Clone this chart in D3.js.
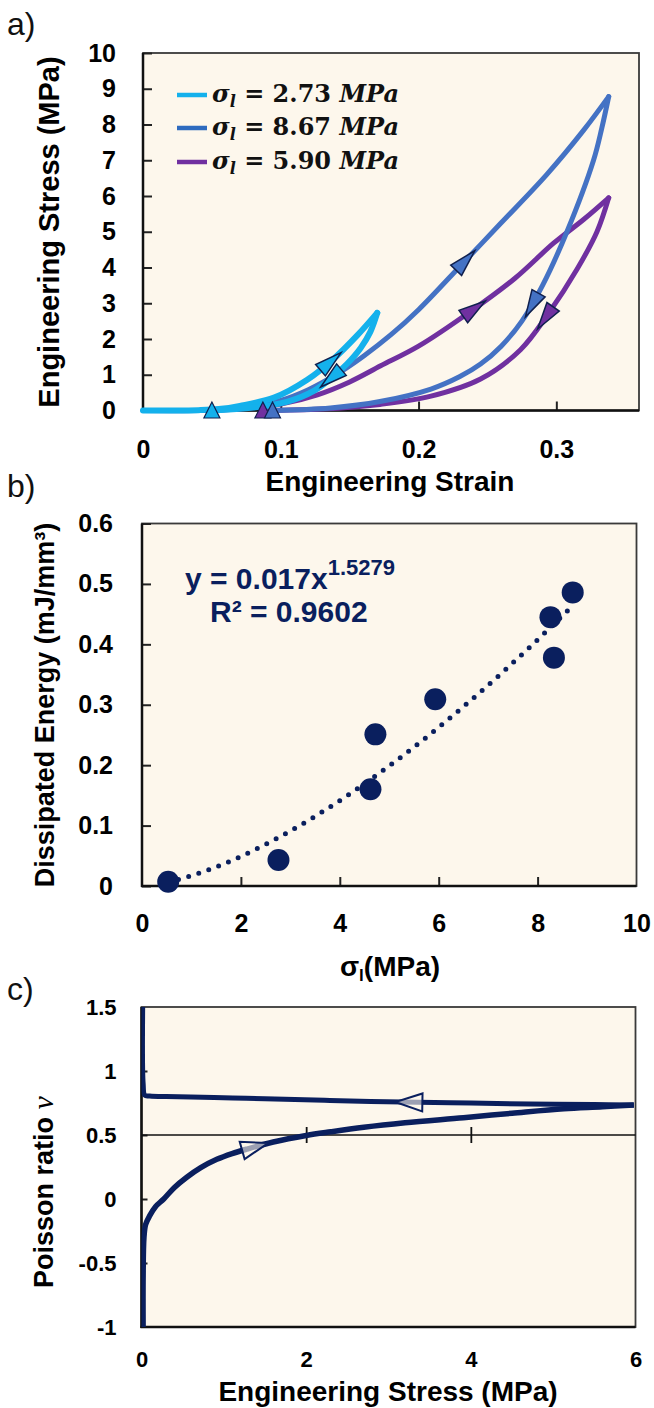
<!DOCTYPE html>
<html><head><meta charset="utf-8">
<script src="https://cdn.jsdelivr.net/npm/d3@7"></script>
<style>body{margin:0;background:#fff} svg{display:block}</style>
</head><body>
<svg id="chart" width="654" height="1408"></svg>
<script>
// ---------------- DATA ----------------
// Panel a: stress-strain hysteresis loops [strain, stress MPa]
const strainTicks = [0, 0.1, 0.2, 0.3];
const stressTicks = [0,1,2,3,4,5,6,7,8,9,10];
const legendLabels = ["2.73", "8.67", "5.90"];
const lightLoad = [[0,0],[0.02,0],[0.04,0.01],[0.055,0.04],[0.0703,0.13],[0.0951,0.36],[0.1192,0.86],[0.1385,1.45],[0.1555,2.1],[0.170,2.73]];
const lightUnload = [[0.170,2.73],[0.165,2.2],[0.158,1.75],[0.148,1.3],[0.138,0.95],[0.124,0.55],[0.105,0.25],[0.08,0.08],[0.05,0]];
const blueLoad = [[0,0],[0.04,0],[0.06,0.03],[0.08,0.11],[0.10,0.28],[0.12,0.58],[0.14,1.0],[0.16,1.52],[0.18,2.12],[0.2,2.82],[0.2317,4.1],[0.26,5.25],[0.293,6.6],[0.32,7.85],[0.338,8.78]];
const blueUnload = [[0.338,8.78],[0.333,7.9],[0.327,7.0],[0.3077,5.0],[0.29,3.5],[0.275,2.5],[0.26,1.8],[0.245,1.3],[0.23,0.95],[0.209,0.6],[0.172,0.25],[0.136,0.07],[0.094,0]];
const purpleLoad = [[0,0],[0.04,0],[0.06,0.02],[0.08,0.08],[0.10,0.18],[0.1266,0.44],[0.15,0.8],[0.1725,1.25],[0.2,1.8],[0.2377,2.77],[0.27,3.7],[0.298,4.68],[0.32,5.35],[0.338,5.95]];
const purpleUnload = [[0.338,5.95],[0.3295,5.0],[0.315,3.95],[0.2944,2.72],[0.274,1.70],[0.245,0.88],[0.209,0.4],[0.172,0.17],[0.13,0.04],[0.087,0]];
const residualStrain = [0.05, 0.094, 0.087];           // light, blue, purple
const arrowLoadStrain = [0.1337, 0.2317, 0.2377];
const arrowUnloadStrain = [0.139, 0.284, 0.294];

// Panel b: dissipated energy vs sigma_l
const sigmaL = [0.53, 2.76, 4.62, 4.72, 5.93, 8.26, 8.33, 8.71];
const energy = [0.007, 0.043, 0.160, 0.251, 0.309, 0.445, 0.378, 0.486];
const fitCoef = 0.017, fitExp = 1.5279;
const energyTicks = [0,0.1,0.2,0.3,0.4,0.5,0.6];
const sigmaTicks = [0,2,4,6,8,10];

// Panel c: Poisson ratio vs engineering stress
const cLoadX = [0.02,0.02,0.03,0.05,0.1,0.17,0.27,0.4,0.55,0.72,0.915,1.1,1.28,1.6,2.0,2.3,2.7,3.2,3.91,4.5,5.13,5.6,5.98];
const cLoadY = [-1.05,-0.6,-0.3,-0.2,-0.13,-0.06,0.0,0.09,0.17,0.245,0.31,0.355,0.39,0.445,0.496,0.525,0.56,0.595,0.635,0.67,0.705,0.72,0.735];
const cUnloadX = [5.98,5.5,4.72,4.0,3.36,2.29,1.5,1.11,0.6,0.3,0.1,0.04,0.02,0.015];
const cUnloadY = [0.735,0.738,0.742,0.75,0.755,0.77,0.783,0.789,0.796,0.80,0.805,0.81,0.9,1.55];
const poissonTicks = [-1,-0.5,0,0.5,1,1.5];
const cStressTicks = [0,2,4,6];
const cArrowLoad = 1.33, cArrowUnload = 3.3;

// ---------------- STYLE ----------------
const BG = "#fdf7ec";
const SANS = "'Liberation Sans', Arial, Helvetica, sans-serif";
const SERIF = "'DejaVu Serif', 'Liberation Serif', serif";
const LIGHT = "#14b1ec", BLUE = "#4472c4", PURPLE = "#7030a0", NAVY = "#0a1f5e";
const LEG_COLORS = [LIGHT, "#2e6bbf", PURPLE];
const OUT = "#10204e";
const fmt = d => String(d);

const svg = d3.select("#chart");
svg.append("rect").attr("width",654).attr("height",1408).attr("fill","#fff");

function frame(x0,x1,y0,y1){
  svg.append("rect").attr("x",x0).attr("y",y0).attr("width",x1-x0).attr("height",y1-y0)
    .attr("fill",BG).attr("stroke","#3a3a3a").attr("stroke-width",1.8);
}
function axisLines(x0,x1,y0,y1){
  svg.append("line").attr("x1",x0).attr("x2",x0).attr("y1",y0).attr("y2",y1+1).attr("stroke","#111").attr("stroke-width",2.5);
  svg.append("line").attr("x1",x0-1).attr("x2",x1).attr("y1",y1).attr("y2",y1).attr("stroke","#111").attr("stroke-width",2.5);
}
function styleAxis(g, fs){
  g.select(".domain").remove();
  g.selectAll("text").attr("font-size",fs).attr("font-weight","bold").attr("font-family",SANS).attr("fill","#000");
  g.selectAll("line").attr("stroke","#222").attr("stroke-width",2);
}
function panelLabel(t,x,y){
  svg.append("text").attr("x",x).attr("y",y).text(t).attr("font-family",SANS).attr("font-size",32).attr("fill","#111");
}
function arrowAt(node, targetX){
  const total = node.getTotalLength();
  let best=0, bestD=1e9;
  for(let l=0;l<=total;l+=0.5){const p=node.getPointAtLength(l);const d=Math.abs(p.x-targetX);if(d<bestD){bestD=d;best=l;}}
  const p=node.getPointAtLength(best);
  const p1=node.getPointAtLength(Math.max(0,best-4)), p2=node.getPointAtLength(Math.min(total,best+4));
  return {x:p.x,y:p.y,ang:Math.atan2(p2.y-p1.y,p2.x-p1.x)*180/Math.PI};
}
function triPath(L,W){ return `M${2*L/3},0L${-L/3},${-W/2}L${-L/3},${W/2}Z`; }

// ================= PANEL A =================
const xa = d3.scaleLinear().domain([0,0.36]).range([143,639]);
const ya = d3.scaleLinear().domain([0,10]).range([410.5,53]);
frame(143,639,53,410.5);
{
  const gy = svg.append("g").attr("transform",`translate(143,0)`)
    .call(d3.axisLeft(ya).tickValues(stressTicks).tickSizeInner(-9).tickSizeOuter(0).tickPadding(27).tickFormat(fmt));
  styleAxis(gy,25);
  const gx = svg.append("g").attr("transform",`translate(0,410.5)`)
    .call(d3.axisBottom(xa).tickValues(strainTicks).tickSizeInner(-9).tickSizeOuter(0).tickFormat(fmt));
  styleAxis(gx,25);
  gx.selectAll("text").attr("y",47.5).attr("dy",0);
  gx.selectAll(".tick").filter(d=>d===0).select("line").remove();
}
axisLines(143,639,53,410.5);

const lineA = d3.line().x(d=>xa(d[0])).y(d=>ya(d[1])).curve(d3.curveCatmullRom.alpha(0.5));
const seriesA = [
  {load:purpleLoad, unload:purpleUnload, color:PURPLE, w:5, i:2},
  {load:blueLoad, unload:blueUnload, color:BLUE, w:5, i:1},
  {load:lightLoad, unload:lightUnload, color:LIGHT, w:6, i:0}
];
const gA = svg.append("g");
seriesA.forEach(s=>{
  s.pl = gA.append("path").attr("d",lineA(s.load)).attr("fill","none").attr("stroke",s.color).attr("stroke-width",s.w).attr("stroke-linecap","round").attr("stroke-linejoin","round");
  s.pu = gA.append("path").attr("d",lineA(s.unload)).attr("fill","none").attr("stroke",s.color).attr("stroke-width",s.w).attr("stroke-linecap","round").attr("stroke-linejoin","round");
});
seriesA.forEach(s=>{
  [[s.pl, arrowLoadStrain[s.i]],[s.pu, arrowUnloadStrain[s.i]]].forEach(([p,sx])=>{
    const a = arrowAt(p.node(), xa(sx));
    gA.append("path").attr("d",triPath(27,15)).attr("transform",`translate(${a.x},${a.y}) rotate(${a.ang})`)
      .attr("fill",s.color).attr("stroke",OUT).attr("stroke-width",1.5).attr("stroke-linejoin","miter");
  });
});
[0,2,1].forEach(i=>{
  const col = [LIGHT,BLUE,PURPLE][i];
  gA.append("path").attr("d","M0,-8L8,8L-8,8Z").attr("transform",`translate(${xa(residualStrain[i])},${ya(0)-0.5})`)
    .attr("fill",col).attr("stroke",OUT).attr("stroke-width",1.2);
});
// legend
const legY = [95,128,162];
legendLabels.forEach((lab,i)=>{
  svg.append("line").attr("x1",177).attr("x2",207).attr("y1",legY[i]).attr("y2",legY[i]).attr("stroke",LEG_COLORS[i]).attr("stroke-width",4.5);
  const t = svg.append("text").attr("x",212).attr("y",legY[i]+7).attr("font-family",SERIF).attr("font-weight","bold").attr("font-size",24).attr("fill","#111");
  t.append("tspan").attr("font-style","italic").text("σ");
  t.append("tspan").attr("font-style","italic").attr("font-size",16).attr("dy",5).text("l");
  t.append("tspan").attr("dy",-5).text(" = " + lab + " ");
  t.append("tspan").attr("font-style","italic").text("MPa");
});
svg.append("text").attr("x",390).attr("y",491).attr("text-anchor","middle").attr("font-family",SANS).attr("font-weight","bold").attr("font-size",28).text("Engineering Strain");
svg.append("text").attr("transform","translate(59,232) rotate(-90)").attr("text-anchor","middle").attr("font-family",SANS).attr("font-weight","bold").attr("font-size",29).text("Engineering Stress (MPa)");
panelLabel("a)",7,35);

// ================= PANEL B =================
const xb = d3.scaleLinear().domain([0,10]).range([142,636.5]);
const yb = d3.scaleLinear().domain([0,0.6]).range([886,523.5]);
frame(142,636.5,523.5,886);
{
  const gy = svg.append("g").attr("transform",`translate(142,0)`)
    .call(d3.axisLeft(yb).tickValues(energyTicks).tickSizeInner(-9).tickSizeOuter(0).tickPadding(29).tickFormat(fmt));
  styleAxis(gy,25);
  const gx = svg.append("g").attr("transform",`translate(0,886)`)
    .call(d3.axisBottom(xb).tickValues(sigmaTicks).tickSizeInner(-9).tickSizeOuter(0).tickFormat(fmt));
  styleAxis(gx,25);
  gx.selectAll("text").attr("y",46).attr("dy",0);
  gx.selectAll(".tick").filter(d=>d===0||d===10).select("line").remove();
}
axisLines(142,636.5,523.5,886);
{
  const xs = d3.range(0,41).map(k=>sigmaL[0] + (sigmaL[sigmaL.length-1]-sigmaL[0])*k/40);
  const fit = xs.map(x=>[x, fitCoef*Math.pow(x,fitExp)]);
  svg.append("path").attr("d",d3.line().x(d=>xb(d[0])).y(d=>yb(d[1])).curve(d3.curveMonotoneX)(fit))
    .attr("fill","none").attr("stroke",NAVY).attr("stroke-width",5).attr("stroke-linecap","round").attr("stroke-dasharray","0 10.6");
  svg.append("g").selectAll("circle").data(sigmaL.map((s,i)=>[s,energy[i]])).join("circle")
    .attr("cx",d=>xb(d[0])).attr("cy",d=>yb(d[1])).attr("r",11).attr("fill",NAVY);
  const t1 = svg.append("text").attr("x",185).attr("y",589).attr("font-family",SANS).attr("font-weight","bold").attr("font-size",30).attr("fill",NAVY);
  t1.append("tspan").text("y = " + fitCoef + "x");
  t1.append("tspan").attr("font-size",22).attr("dy",-14).text(String(fitExp));
  svg.append("text").attr("x",210).attr("y",622).attr("font-family",SANS).attr("font-weight","bold").attr("font-size",30).attr("fill",NAVY).text("R² = 0.9602");
}
{
  const t = svg.append("text").attr("x",390).attr("y",976).attr("text-anchor","middle").attr("font-family",SANS).attr("font-weight","bold").attr("font-size",28).attr("fill","#000");
  t.append("tspan").text("σ");
  t.append("tspan").attr("font-size",17).attr("dy",5).text("l");
  t.append("tspan").attr("dy",-5).text("(MPa)");
}
svg.append("text").attr("transform","translate(54,705) rotate(-90)").attr("text-anchor","middle").attr("font-family",SANS).attr("font-weight","bold").attr("font-size",27).text("Dissipated Energy (mJ/mm³)");
panelLabel("b)",7,497);

// ================= PANEL C =================
const xc = d3.scaleLinear().domain([0,6]).range([141.5,635.5]);
const yc = d3.scaleLinear().domain([-1,1.5]).range([1327,1007]);
frame(141.5,635.5,1007,1327);
{
  const gy = svg.append("g").attr("transform",`translate(141.5,0)`)
    .call(d3.axisLeft(yc).tickValues(poissonTicks).tickSizeInner(-6).tickSizeOuter(0).tickPadding(25).tickFormat(fmt));
  styleAxis(gy,22);
  gy.selectAll(".tick").filter(d=>d===-1||d===1.5).select("line").remove();
  const gx = svg.append("g").attr("transform",`translate(0,1327)`)
    .call(d3.axisBottom(xc).tickValues(cStressTicks).tickSize(0).tickFormat(fmt));
  styleAxis(gx,22);
  gx.selectAll("text").attr("y",40).attr("dy",0);
  // horizontal axis crossing at 0.5
  const y05 = yc(0.5);
  svg.append("line").attr("x1",141.5).attr("x2",635.5).attr("y1",y05).attr("y2",y05).attr("stroke","#111").attr("stroke-width",1.5);
  [8,-8].forEach(s=>{
    const g = svg.append("g").attr("transform",`translate(0,${y05})`).call(d3.axisBottom(xc).tickValues([2,4]).tickSizeInner(s).tickSizeOuter(0).tickFormat(""));
    g.select(".domain").remove(); g.selectAll("line").attr("stroke","#111").attr("stroke-width",1.8);
  });
}
axisLines(141.5,635.5,1007,1327);
svg.append("clipPath").attr("id","clipC").append("rect").attr("x",141.5).attr("y",1007).attr("width",494).attr("height",320);
{
  const lineC = d3.line().x(d=>xc(d[0])).y(d=>yc(d[1])).curve(d3.curveCatmullRom.alpha(0.5));
  const g = svg.append("g").attr("clip-path","url(#clipC)");
  const pl = g.append("path").attr("d",lineC(cLoadX.map((x,i)=>[x,cLoadY[i]]))).attr("fill","none").attr("stroke",NAVY).attr("stroke-width",5.5).attr("stroke-linejoin","round");
  const pu = g.append("path").attr("d",lineC(cUnloadX.map((x,i)=>[x,cUnloadY[i]]))).attr("fill","none").attr("stroke",NAVY).attr("stroke-width",5).attr("stroke-linejoin","round");
  [[pl,cArrowLoad],[pu,cArrowUnload]].forEach(([p,sx])=>{
    const a = arrowAt(p.node(), xc(sx));
    g.append("path").attr("d",triPath(27,18)).attr("transform",`translate(${a.x},${a.y}) rotate(${a.ang})`)
      .attr("fill",BG).attr("fill-opacity",0.6).attr("stroke",NAVY).attr("stroke-width",2);
  });
}
svg.append("text").attr("x",388).attr("y",1401).attr("text-anchor","middle").attr("font-family",SANS).attr("font-weight","bold").attr("font-size",28).text("Engineering Stress (MPa)");
{
  const t = svg.append("text").attr("transform","translate(53,1192) rotate(-90)").attr("text-anchor","middle").attr("font-family",SANS).attr("font-weight","bold").attr("font-size",27);
  t.append("tspan").text("Poisson ratio ");
  t.append("tspan").attr("font-family","'Liberation Serif', serif").attr("font-style","italic").attr("font-weight","normal").attr("font-size",30).text("ν");
}
panelLabel("c)",7,1000);
</script>
</body></html>
